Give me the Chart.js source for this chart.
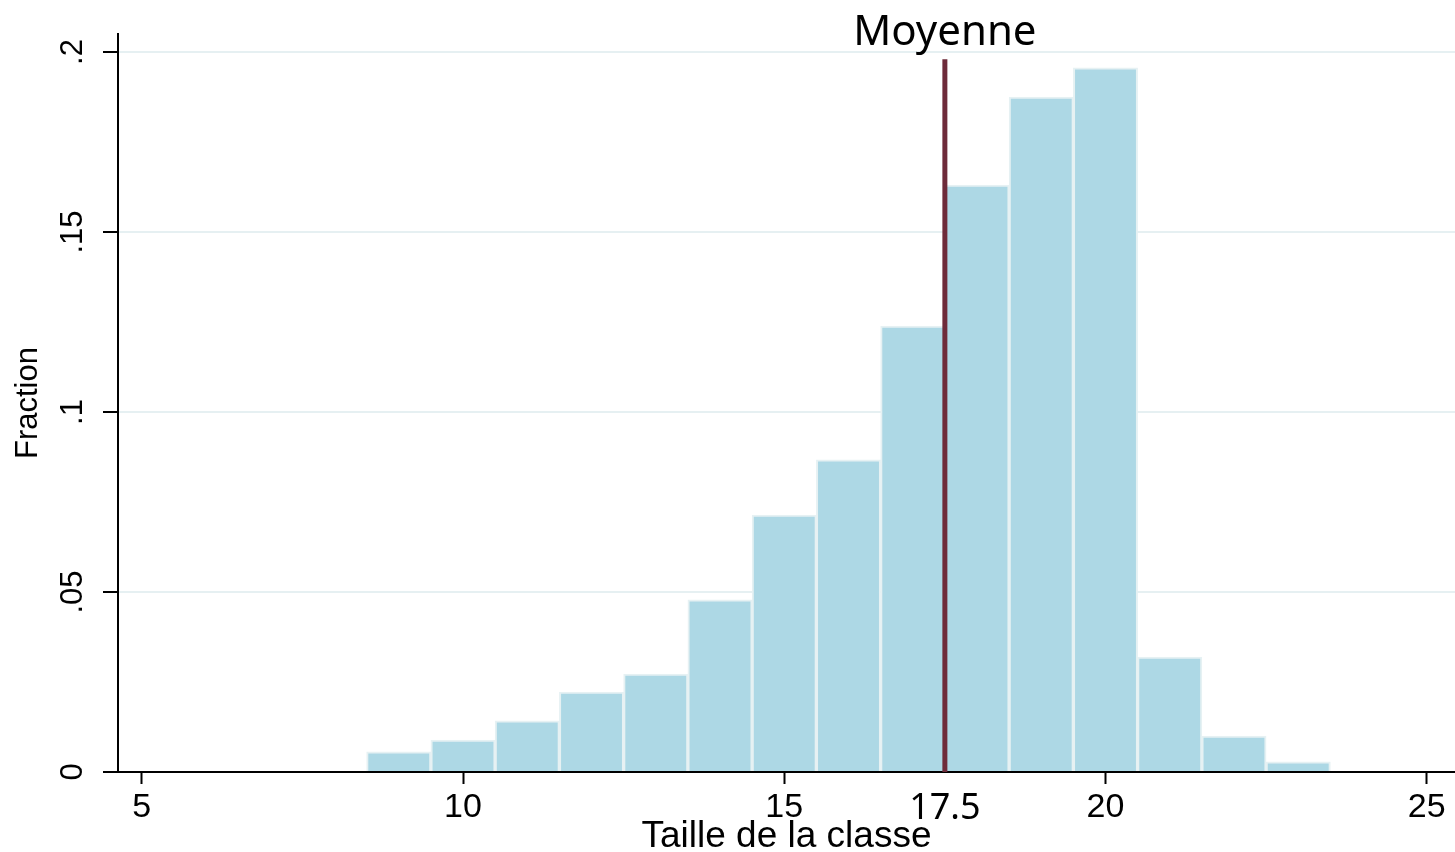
<!DOCTYPE html>
<html>
<head>
<meta charset="utf-8">
<script src="https://cdn.jsdelivr.net/npm/chart.js@4.4.1/dist/chart.umd.min.js"></script>
<style>
  html, body { margin: 0; padding: 0; background: #fff; }
</style>
</head>
<body>
<canvas id="histChart" width="1455" height="852"></canvas>
<script>
// bin centres (class size) and share of classes in each bin
const binCenters = [9, 10, 11, 12, 13, 14, 15, 16, 17, 18, 19, 20, 21, 22, 23];
const fractions = [0.0056, 0.0089, 0.0142, 0.0222, 0.0272, 0.0478, 0.0714, 0.0867, 0.1239, 0.163, 0.1875, 0.1956, 0.0319, 0.0100, 0.0028];

// mean marker
const meanValue = 17.5;
const meanLineTop = 0.198;
const meanLabel = 'Moyenne';

// axes
const xTickValues = [5, 10, 15, 17.5, 20, 25];
const yTickValues = [0, 0.05, 0.1, 0.15, 0.2];
const yTickLabels = ['0', '.05', '.1', '.15', '.2'];

const meanLabelPlugin = {
  id: 'meanLabel',
  afterDraw(chart) {
    const ctx = chart.ctx;
    const x = chart.scales.x.getPixelForValue(meanValue);
    ctx.save();
    ctx.font = '42px "Noto Sans"';
    ctx.fillStyle = '#000';
    ctx.textAlign = 'center';
    ctx.textBaseline = 'alphabetic';
    ctx.fillText(meanLabel, x, 45);
    ctx.restore();
  }
};

const ctx = document.getElementById('histChart').getContext('2d');

new Chart(ctx, {
  type: 'bar',
  data: {
    datasets: [
      {
        type: 'line',
        data: [{ x: meanValue, y: 0 }, { x: meanValue, y: meanLineTop }],
        borderColor: '#6e2b3a',
        borderWidth: 5,
        pointRadius: 0,
        order: 0
      },
      {
        type: 'bar',
        data: binCenters.map((c, i) => ({ x: c, y: fractions[i] })),
        backgroundColor: '#add8e5',
        borderColor: '#e6f1f3',
        borderWidth: 2,
        barPercentage: 1,
        categoryPercentage: 1,
        order: 1
      }
    ]
  },
  options: {
    responsive: false,
    animation: false,
    layout: { padding: { top: 34, right: 0, bottom: 0, left: 0 } },
    plugins: {
      legend: { display: false },
      tooltip: { enabled: false }
    },
    scales: {
      x: {
        type: 'linear',
        min: 4.63,
        max: 25.44,
        offset: false,
        afterBuildTicks: s => { s.ticks = xTickValues.map(v => ({ value: v })); },
        afterFit: s => { s.height = 80; },
        grid: {
          offset: false,
          drawOnChartArea: false,
          tickLength: 12,
          tickWidth: 2,
          tickColor: c => (c.tick && c.tick.value === meanValue) ? 'rgba(0,0,0,0)' : '#000'
        },
        border: { display: true, color: '#000', width: 2 },
        ticks: {
          color: '#000',
          padding: 3,
          autoSkip: false,
          maxRotation: 0,
          font: c => (c.tick && c.tick.value === meanValue)
            ? { family: 'Noto Sans', size: 36 }
            : { family: 'Liberation Sans', size: 34 },
          callback: v => String(v)
        },
        title: {
          display: true,
          text: 'Taille de la classe',
          color: '#000',
          font: { family: 'Liberation Sans', size: 37, lineHeight: 0.8 },
          padding: { top: 0, bottom: 0 }
        }
      },
      y: {
        min: 0,
        max: 0.205,
        afterBuildTicks: s => { s.ticks = yTickValues.map(v => ({ value: v })); },
        afterFit: s => { s.width = 118; },
        grid: {
          color: '#e6f0f2',
          lineWidth: 2,
          tickColor: '#000',
          tickLength: 15,
          tickWidth: 2
        },
        border: { display: true, color: '#000', width: 2 },
        ticks: {
          color: '#000',
          padding: 8,
          minRotation: 90,
          maxRotation: 90,
          crossAlign: 'center',
          font: { family: 'Liberation Sans', size: 31 },
          callback: v => yTickLabels[yTickValues.indexOf(v)]
        },
        title: {
          display: true,
          text: 'Fraction',
          color: '#000',
          font: { family: 'Liberation Sans', size: 31 },
          padding: { top: 10, bottom: 0 }
        }
      }
    }
  },
  plugins: [meanLabelPlugin]
});
</script>
</body>
</html>
